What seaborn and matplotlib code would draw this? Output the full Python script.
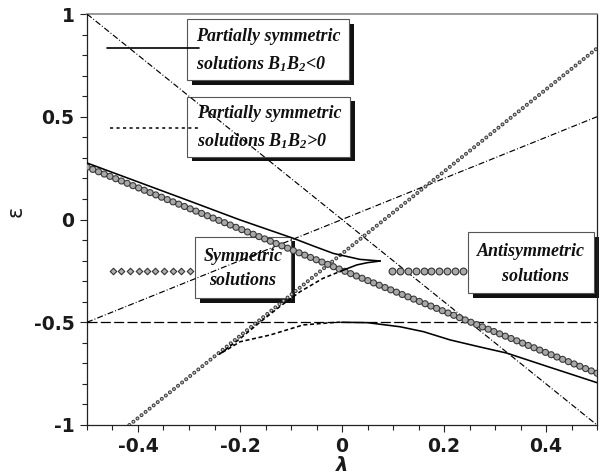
import numpy as np
import pandas as pd
import matplotlib
matplotlib.use("Agg")
import matplotlib.pyplot as plt
import seaborn as sns
from matplotlib.patches import Rectangle
from matplotlib.ticker import MultipleLocator

# ------------------------------------------------------------------ data
x_ticks = [-0.4, -0.2, 0.0, 0.2, 0.4]
x_tick_labels = ["-0.4", "-0.2", "0", "0.2", "0.4"]
y_ticks = [1.0, 0.5, 0.0, -0.5, -1.0]
y_tick_labels = ["1", "0.5", "0", "-0.5", "-1"]

# straight reference lines (end points)
diag_down_lam = [-0.5, 0.5]
diag_down_eps = [1.0, -1.0]
diag_up_lam = [-0.5, 0.5]
diag_up_eps = [-0.5, 0.5]
hline_lam = [-0.5, 0.5]
hline_eps = [-0.5, -0.5]

# symmetric solutions (small markers)
sym_lam = [-0.417, 0.5]
sym_eps = [-1.0, 0.833]
# antisymmetric solutions (large markers)
anti_lam = [-0.5, 0.5]
anti_eps = [0.255, -0.748]

# partially symmetric solutions B1B2<0 (solid)
psn_upper_lam = [-0.5, -0.4, -0.3, -0.2, -0.095, -0.055, -0.017, 0.035, 0.075]
psn_upper_eps = [0.275, 0.183, 0.091, -0.002, -0.092, -0.13, -0.165, -0.194, -0.202]
psn_cusp_lam = [0.075, 0.05, 0.029, 0.003]
psn_cusp_eps = [-0.202, -0.21, -0.221, -0.246]
psn_lower_lam = [0.0, 0.05, 0.114, 0.16, 0.212, 0.27, 0.323, 0.4, 0.5]
psn_lower_eps = [-0.5, -0.502, -0.522, -0.546, -0.586, -0.62, -0.65, -0.713, -0.794]

# partially symmetric solutions B1B2>0 (dotted)
psp_lam = [0.003, -0.037, -0.082, -0.12, -0.161, -0.2, -0.24,
           -0.2, -0.141, -0.076, -0.01, 0.0]
psp_eps = [-0.246, -0.286, -0.351, -0.42, -0.5, -0.58, -0.655,
           -0.595, -0.562, -0.513, -0.5, -0.5]

# legend samples
leg_solid_lam = [-0.46, -0.28]
leg_solid_eps = [0.833, 0.833]
leg_dot_lam = [-0.455, -0.282]
leg_dot_eps = [0.444, 0.444]
sym_sample_lam = [-0.45, -0.433, -0.416, -0.399, -0.382, -0.366, -0.349, -0.332, -0.315, -0.298]
sym_sample_eps = [-0.25] * 10
anti_sample_lam = [0.099, 0.114, 0.130, 0.145, 0.160, 0.175, 0.191, 0.206, 0.221, 0.237]
anti_sample_eps = [-0.25] * 10

box_texts = ["Partially symmetric\nsolutions $\\mathbf{B_1B_2}$<0",
             "Partially symmetric\nsolutions $\\mathbf{B_1B_2}$>0",
             "Symmetric\nsolutions",
             "Antisymmetric\n  solutions"]

# ------------------------------------------------------------------ style
sns.set_theme(style="ticks")
plt.rcParams["lines.scale_dashes"] = False
plt.rcParams["axes.unicode_minus"] = False
plt.rcParams["font.family"] = ["DejaVu Sans"]
plt.rcParams["mathtext.fontset"] = "custom"
plt.rcParams["mathtext.bf"] = "Liberation Serif:bold:italic"
plt.rcParams["mathtext.rm"] = "Liberation Serif:bold:italic"
plt.rcParams["mathtext.it"] = "Liberation Serif:bold:italic"

fig = plt.figure(figsize=(6.04, 4.76), dpi=100)
ax = fig.add_axes([87 / 604, 1 - 425 / 476, 510 / 604, 411 / 476])
ax.set_facecolor("white")

DASHDOT = (0, (4.3, 1.5, 0.7, 1.5))
DOTTED = (0, (2.9, 1.9))
DASHED = (0, (7.2, 2.4))


def line(lam, eps, **kw):
    df = pd.DataFrame({"lam": lam, "eps": eps})
    sns.lineplot(data=df, x="lam", y="eps", estimator=None, sort=False,
                 errorbar=None, ax=ax, **kw)


def bead_line(lam, eps, d_out, d_in, step, c_out, c_in, z):
    line(lam, eps, color=c_out, linewidth=d_out, linestyle=(0, (0.05, step)),
         dash_capstyle="round", zorder=z)
    line(lam, eps, color=c_in, linewidth=d_in, linestyle=(0, (0.05, step)),
         dash_capstyle="round", zorder=z + 0.01)


# reference lines
line(diag_down_lam, diag_down_eps, color="black", linewidth=0.85, linestyle=DASHDOT, zorder=3)
line(diag_up_lam, diag_up_eps, color="black", linewidth=0.85, linestyle=DASHDOT, zorder=3)
line(hline_lam, hline_eps, color="black", linewidth=0.9, linestyle=DASHED, zorder=3)

# bead lines
bead_line(sym_lam, sym_eps, 2.9, 1.3, 3.7, "#404040", "#d0d0d0", 4)
bead_line(anti_lam, anti_eps, 5.2, 3.6, 4.4, "#3a3a3a", "#a8a8a8", 4.2)

# partially symmetric curves
line(psn_upper_lam, psn_upper_eps, color="black", linewidth=1.15, zorder=5)
line(psn_cusp_lam, psn_cusp_eps, color="black", linewidth=1.15, zorder=5)
line(psn_lower_lam, psn_lower_eps, color="black", linewidth=1.15, zorder=5)
line(psp_lam, psp_eps, color="black", linewidth=1.15, linestyle=DOTTED, zorder=5)

# legend samples
line(leg_solid_lam, leg_solid_eps, color="black", linewidth=1.2, zorder=5)
line(leg_dot_lam, leg_dot_eps, color="black", linewidth=1.1, linestyle=(0, (2.2, 2.5)), zorder=5)
sns.scatterplot(x=sym_sample_lam, y=sym_sample_eps, marker="D", s=11, color="#b0b0b0",
                edgecolor="#333333", linewidth=0.8, ax=ax, zorder=5)
sns.scatterplot(x=anti_sample_lam, y=anti_sample_eps, marker="o", s=24, color="#a8a8a8",
                edgecolor="#333333", linewidth=0.8, ax=ax, zorder=5)

# text boxes with shadows (axes fraction)
boxes = [(0.1967, 0.8394, 0.3176, 0.1476),
         (0.1967, 0.6528, 0.3190, 0.1460),
         (0.2118, 0.3083, 0.1876, 0.1499),
         (0.7476, 0.3204, 0.2471, 0.1485)]
text_pos = [(0.2137, 0.910, "left"), (0.2151, 0.722, "left"),
            (0.3055, 0.381, "center"), (0.8712, 0.391, "center")]
sx, sy = 4.5 / 510, 4.5 / 411
for (bx, by, bw, bh), (tx, ty, ha), txt in zip(boxes, text_pos, box_texts):
    ax.add_patch(Rectangle((bx + sx, by - sy), bw, bh, transform=ax.transAxes,
                           facecolor="#111111", edgecolor="none", zorder=1.5, clip_on=False))
    ax.add_patch(Rectangle((bx, by), bw, bh, transform=ax.transAxes,
                           facecolor="white", edgecolor="#555555", linewidth=0.8,
                           zorder=1.6, clip_on=False))
    ax.text(tx, ty, txt, transform=ax.transAxes, ha=ha, va="center", multialignment=ha,
            family="Liberation Serif", fontweight="bold", fontstyle="italic",
            fontsize=13, linespacing=1.6, color="#111111", zorder=1.7)

# axes
ax.set_xlim(-0.5, 0.5)
ax.set_ylim(-1, 1)
ax.set_xticks(x_ticks, x_tick_labels)
ax.set_yticks(y_ticks, y_tick_labels)
ax.xaxis.set_minor_locator(MultipleLocator(0.05))
ax.yaxis.set_minor_locator(MultipleLocator(0.1))
ax.tick_params(which="major", direction="out", length=5, width=0.8, color="#222222", pad=4)
ax.tick_params(which="minor", direction="out", length=3.4, width=0.8, color="#222222")
for lab in ax.get_xticklabels() + ax.get_yticklabels():
    lab.set_fontweight("bold")
    lab.set_fontsize(13.5)
    lab.set_color("#1a1a1a")
ax.set_xlabel("λ", fontsize=14, fontweight="bold", fontstyle="italic", color="#1a1a1a")
ax.set_ylabel("ε", fontsize=15, color="#1a1a1a")
ax.xaxis.set_label_coords(0.5, -0.075)
ax.yaxis.set_label_coords(-0.12, 0.52)

for side in ["left", "bottom", "right"]:
    ax.spines[side].set_color("#222222")
    ax.spines[side].set_linewidth(0.9)
ax.spines["top"].set_color("#888888")
ax.spines["top"].set_linewidth(1.2)
ax.spines["right"].set_visible(True)
ax.spines["top"].set_visible(True)

fig.savefig("out.png", dpi=100, facecolor="white")
